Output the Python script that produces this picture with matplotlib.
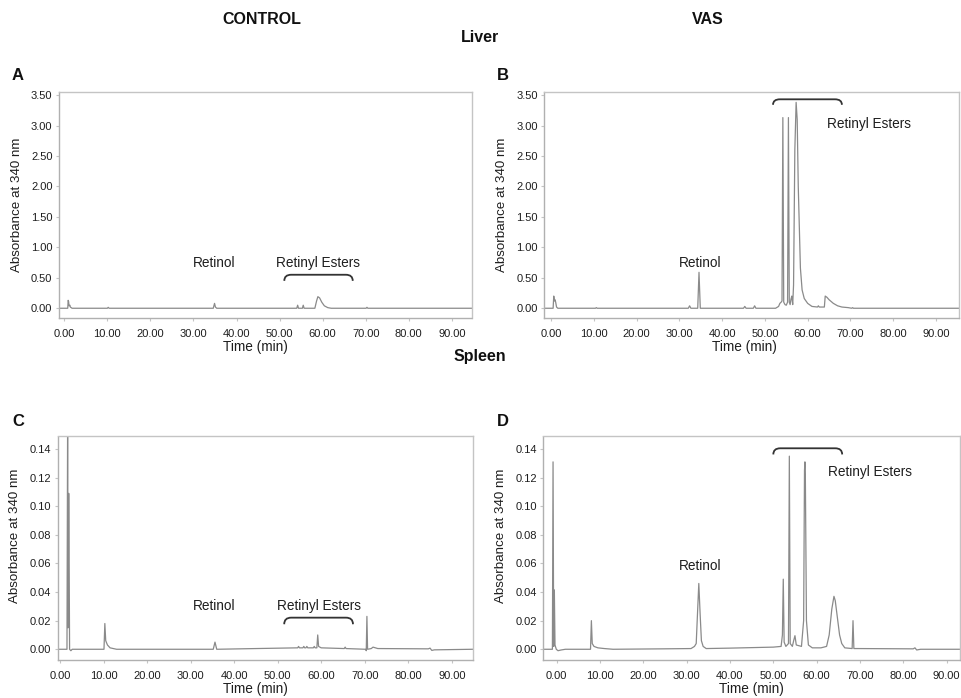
import matplotlib
matplotlib.use('Agg')
import matplotlib.pyplot as plt
from matplotlib.path import Path
from matplotlib import patches as pat

plt.rcParams['font.family'] = ['Liberation Sans', 'DejaVu Sans']

# HPLC traces (time in min, absorbance at 340 nm)
a_time = [-1.3, 0.8, 0.9, 1.0, 1.1, 1.3, 1.4, 1.6, 1.8,
          10.0, 10.2, 10.4,
          34.6, 34.9, 35.1, 35.4,
          54.0, 54.2, 54.4, 55.3, 55.5, 55.7,
          58.2, 58.6, 58.9, 59.3, 59.8, 60.4, 61.2, 62.0,
          70.1, 70.3, 70.5, 94.7]
a_abs = [0, 0, 0.13, 0.11, 0.04, 0.05, 0.02, 0.01, 0,
         0, 0.015, 0,
         0, 0.08, 0.02, 0,
         0, 0.05, 0, 0, 0.05, 0,
         0, 0.12, 0.19, 0.17, 0.10, 0.04, 0.01, 0,
         0, 0.015, 0, 0]

b_time = [-1.56, 0.5, 0.65, 0.8, 0.95, 1.1, 1.3, 1.6,
          10.4, 10.6, 10.8,
          32.1, 32.4, 32.7,
          34.3, 34.6, 34.9,
          45.0, 45.3, 45.6,
          47.3, 47.6, 47.9,
          52.5, 53.2, 53.5, 53.8, 54.0, 54.2, 54.4, 54.7, 55.0, 55.3, 55.5,
          55.7, 55.9, 56.1, 56.3, 56.5, 56.7, 57.0, 57.3, 57.55, 57.8, 58.3,
          58.7, 59.2, 60.0, 61.0, 62.3, 62.5, 62.7, 63.9, 64.1, 64.5, 65.0,
          66.0, 67.0, 68.0, 69.5, 70.3, 70.5, 70.7, 95.3]
b_abs = [0, 0, 0.20, 0.12, 0.14, 0.10, 0.02, 0,
         0, 0.01, 0,
         0, 0.04, 0,
         0, 0.59, 0,
         0, 0.03, 0,
         0, 0.04, 0,
         0, 0.03, 0.08, 0.10, 0.12, 3.13, 0.10, 0.06, 0.05, 0.10, 3.13,
         0.10, 0.06, 0.15, 0.20, 0.06, 0.38, 2.6, 3.38, 3.1, 2.0, 0.66,
         0.30, 0.16, 0.08, 0.03, 0.02, 0.04, 0.02, 0.02, 0.20, 0.18, 0.14,
         0.08, 0.04, 0.02, 0.01, 0, 0.01, 0, 0]

c_time = [-0.53, 1.6, 1.75, 1.85, 2.0, 2.1, 2.2, 2.5, 2.8,
          10.1, 10.3, 10.5, 10.9, 11.5, 13.0,
          35.2, 35.6, 36.0,
          45.0, 54.6, 54.8, 55.0, 55.8, 56.0, 56.2, 56.5, 56.7, 56.9,
          58.2, 58.4, 58.6, 59.0, 59.2, 59.4, 60.0,
          65.3, 65.5, 65.7,
          70.2, 70.35, 70.5, 70.65, 71.5, 71.9, 73.0,
          84.6, 85.0, 85.4, 86.0, 94.8]
c_abs = [0, 0, 0.16, 0.015, 0.109, 0.063, 0.0, -0.001, 0,
         0, 0.018, 0.006, 0.003, 0.001, 0,
         0, 0.005, 0,
         0.0005, 0.001, 0.002, 0.001, 0.001, 0.002, 0.001, 0.001, 0.002, 0.001,
         0.001, 0.002, 0.001, 0.001, 0.010, 0.002, 0.001,
         0.0005, 0.0015, 0.0005,
         0, -0.001, 0.023, 0.0, 0.0005, 0.0015, 0.0005,
         0.0003, 0.0008, -0.0008, -0.0004, 0]

d_time = [-3.1, -1.0, -0.85, -0.7, -0.55, -0.4, -0.1, 0.3, 1.0, 2.0,
          7.8, 8.0, 8.2, 8.6, 9.5, 11.0, 13.0,
          24.5, 31.0, 31.8, 32.2, 32.5, 32.8, 33.1, 33.4, 33.8, 34.5,
          40.0, 50.0, 51.8, 52.1, 52.3, 52.5, 52.9, 53.5, 53.7, 53.9, 54.4,
          54.7, 55.0, 55.3, 56.5, 57.0, 57.2, 57.3, 57.4, 57.65, 58.1, 59.0,
          61.0, 62.3, 62.9, 63.5, 64.0, 64.3, 64.8, 65.3, 65.8, 66.5,
          68.2, 68.4, 68.6, 69.5, 82.3, 82.7, 83.1, 84.0, 93.1]
d_abs = [0, 0, 0.131, 0.002, 0.0415, 0.003, 0.0, -0.001, -0.0005, 0,
         0, 0.020, 0.004, 0.002, 0.001, 0.0005, 0,
         0.0003, 0.0005, 0.002, 0.004, 0.025, 0.046, 0.025, 0.006, 0.002, 0.0005,
         0.0008, 0.0015, 0.002, 0.01, 0.049, 0.005, 0.002, 0.004, 0.135, 0.004, 0.002,
         0.006, 0.0095, 0.003, 0.002, 0.02, 0.125, 0.131, 0.12, 0.02, 0.003, 0.001,
         0.001, 0.002, 0.01, 0.028, 0.037, 0.034, 0.022, 0.01, 0.004, 0.001,
         0.0005, 0.020, 0.0005, 0.0005, 0.0003, 0.001, -0.0005, 0, 0]

liver_ticks = [0.0, 0.5, 1.0, 1.5, 2.0, 2.5, 3.0, 3.5]
spleen_ticks = [0.0, 0.02, 0.04, 0.06, 0.08, 0.10, 0.12, 0.14]
time_ticks = [0, 10, 20, 30, 40, 50, 60, 70, 80, 90]

W, H = 961, 698
fig = plt.figure(figsize=(W / 100, H / 100), dpi=100)

TRACE = '#8a8a8a'
FRAME = '#c4c4c4'
TXT = '#1e1e1e'


def px_axes(l, t, r, b):
    return fig.add_axes([l / W, 1 - b / H, (r - l) / W, (b - t) / H])


def bracket(ax, x0, x1, y_top, y_bot, dx=1.6):
    verts = [(x0, y_bot), (x0, y_top), (x0 + dx, y_top),
             (x1 - dx, y_top), (x1, y_top), (x1, y_bot)]
    codes = [Path.MOVETO, Path.CURVE3, Path.CURVE3,
             Path.LINETO, Path.CURVE3, Path.CURVE3]
    ax.add_patch(pat.PathPatch(Path(verts, codes), fc='none', ec='#333333', lw=1.3))


def setup(ax, t, a, xlim, ylim, yticks, xlab_x, ylab_y):
    ax.plot(t, a, color=TRACE, lw=0.9)
    ax.set_xlim(*xlim)
    ax.set_ylim(*ylim)
    ax.set_xticks(time_ticks)
    ax.set_xticklabels(['%.2f' % v for v in time_ticks])
    ax.set_yticks(yticks)
    ax.set_yticklabels(['%.2f' % v for v in yticks])
    ax.tick_params(labelsize=8, colors=FRAME, labelcolor=TXT, length=2.5, width=0.8)
    ax.tick_params(axis='x', pad=5.5)
    ax.tick_params(axis='y', pad=2)
    for s in ['top', 'right']:
        ax.spines[s].set_color(FRAME)
        ax.spines[s].set_linewidth(1.0)
    for s in ['left', 'bottom']:
        ax.spines[s].set_color('#b0b0b0')
        ax.spines[s].set_linewidth(1.0)
        ax.spines[s].set_linestyle((0, (1, 1)))
    ax.set_xlabel('Time (min)', fontsize=9.8, color=TXT, va='center')
    ax.xaxis.set_label_coords(xlab_x, -0.13)
    ax.set_ylabel('Absorbance at 340 nm', fontsize=9.6, color=TXT, va='center')
    ax.yaxis.set_label_coords(-0.102, ylab_y)


axA = px_axes(58.7, 92.3, 472, 318)
axB = px_axes(544.3, 92.3, 958.7, 318)
axC = px_axes(57.7, 435.7, 472.7, 660)
axD = px_axes(543.3, 435.7, 960, 660)

setup(axA, a_time, a_abs, (-1.3, 94.7), (-0.16, 3.545), liver_ticks, 0.477, 0.5)
setup(axB, b_time, b_abs, (-1.56, 95.3), (-0.16, 3.545), liver_ticks, 0.482, 0.5)
setup(axC, c_time, c_abs, (-0.53, 94.8), (-0.0075, 0.1493), spleen_ticks, 0.477, 0.555)
setup(axD, d_time, d_abs, (-3.1, 93.1), (-0.0075, 0.1493), spleen_ticks, 0.500, 0.555)

# annotations
ann = dict(fontsize=9.8, color=TXT, ha='center', va='center')
axA.text(34.9, 0.75, 'Retinol', **ann)
axA.text(59.0, 0.75, 'Retinyl Esters', **ann)
bracket(axA, 51.1, 67.0, 0.55, 0.45)

axB.text(34.8, 0.745, 'Retinol', **ann)
axB.text(74.4, 3.03, 'Retinyl Esters', **ann)
bracket(axB, 51.9, 68.0, 3.43, 3.34)

axC.text(35.5, 0.0303, 'Retinol', **ann)
axC.text(59.4, 0.0303, 'Retinyl Esters', **ann)
bracket(axC, 51.5, 67.3, 0.0221, 0.0175)

axD.text(33.1, 0.0584, 'Retinol', **ann)
axD.text(72.3, 0.1237, 'Retinyl Esters', **ann)
bracket(axD, 50.0, 65.9, 0.1405, 0.1362)


# headers and panel letters
def ftext(x, y, s, size=11.5):
    fig.text(x / W, 1 - y / H, s, fontsize=size, fontweight='bold', color='#111111',
             ha='center', va='center')


ftext(262, 20, 'CONTROL')
ftext(708, 20, 'VAS')
ftext(480, 38, 'Liver')
ftext(480, 357, 'Spleen')
ftext(18, 75, 'A', 12)
ftext(503, 75, 'B', 12)
ftext(18, 422, 'C', 12)
ftext(503, 422, 'D', 12)

fig.savefig('out.png', dpi=100, facecolor='white')
